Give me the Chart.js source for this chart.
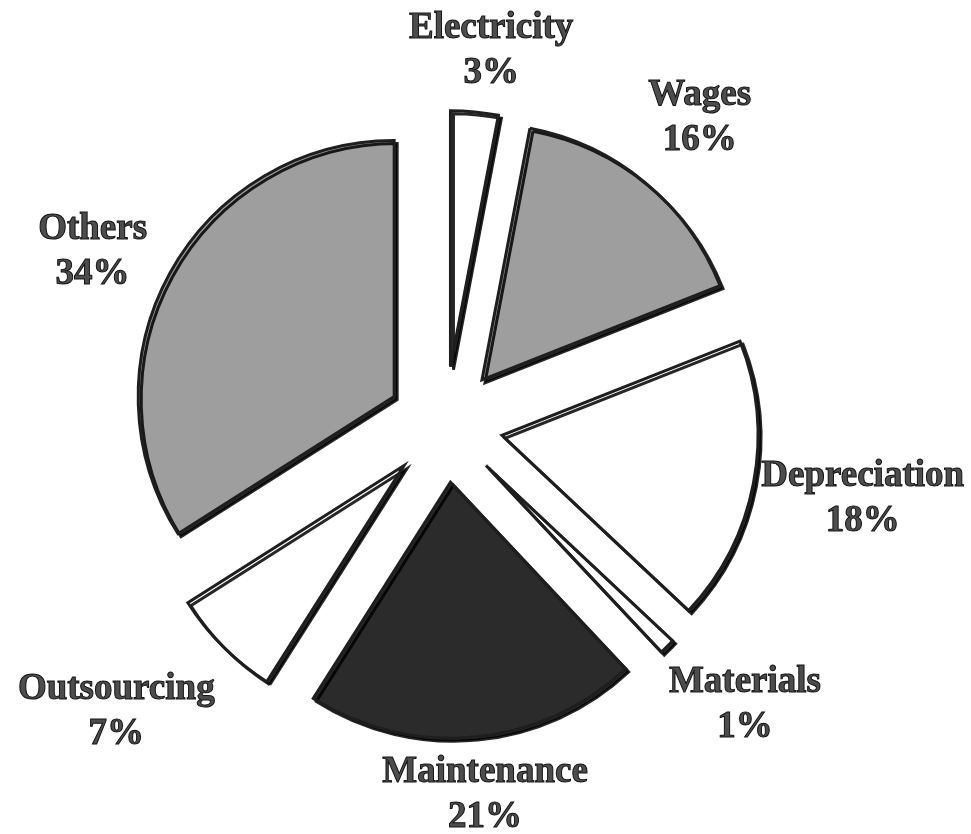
<!DOCTYPE html>
<html>
<head>
<meta charset="utf-8">
<script src="https://cdn.jsdelivr.net/npm/chart.js@4"></script>
<style>
  html, body { margin: 0; padding: 0; background: #fff; }
  #wrap { width: 971px; height: 834px; position: relative; }
</style>
</head>
<body>
<div id="wrap"><canvas id="pieChart"></canvas></div>
<script>
// data, clockwise from 12 o'clock
const categories = ['Electricity', 'Wages', 'Depreciation', 'Materials', 'Maintenance', 'Outsourcing', 'Others'];
const shares = [3, 16, 18, 1, 21, 7, 34];
const sliceColors = ['#ffffff', '#9e9e9e', '#ffffff', '#ffffff', '#2b2b2b', '#ffffff', '#9e9e9e'];

// how far every slice is pulled out of the centre
const EXPLODE = 58;
// small nudges for the labels so they sit like the original
const labelNudge = [[7, 1], [9, -17], [-10, 1], [10, 10], [-1, -9], [-23, 17], [-12, 8]];

const explodedSlices = {
  id: 'explodedSlices',
  beforeDatasetDraw(chart, args) {
    const ctx = chart.ctx;
    ctx.save();
    ctx.shadowColor = 'rgba(0,0,0,0.85)';
    ctx.shadowOffsetX = 3;
    ctx.shadowOffsetY = 3;
    ctx.shadowBlur = 0;
    args.meta.data.forEach(arc => {
      const mid = (arc.startAngle + arc.endAngle) / 2;
      ctx.save();
      ctx.translate(Math.cos(mid) * EXPLODE, Math.sin(mid) * EXPLODE);
      arc.draw(ctx);
      ctx.restore();
    });
    ctx.restore();
    return false;
  }
};

const sliceLabels = {
  id: 'sliceLabels',
  afterDatasetsDraw(chart) {
    const ctx = chart.ctx;
    const meta = chart.getDatasetMeta(0);
    const gap = 20;
    const lineH = 45;
    ctx.save();
    ctx.font = 'bold 37px "Liberation Serif", "Times New Roman", serif';
    ctx.textAlign = 'center';
    ctx.textBaseline = 'alphabetic';
    ctx.fillStyle = '#4d4d4d';
    ctx.strokeStyle = '#111111';
    ctx.lineWidth = 1;
    meta.data.forEach((arc, i) => {
      const mid = (arc.startAngle + arc.endAngle) / 2;
      const dx = Math.cos(mid), dy = Math.sin(mid);
      const px = arc.x + dx * (EXPLODE + arc.outerRadius);
      const py = arc.y + dy * (EXPLODE + arc.outerRadius);
      const lines = [categories[i], shares[i] + '%'];
      const w = Math.max(...lines.map(t => ctx.measureText(t).width));
      const h = lineH * 2;
      const cx = px + dx * (gap + w / 2) + labelNudge[i][0];
      const cy = py + dy * (gap + h / 2) + labelNudge[i][1];
      lines.forEach((t, k) => {
        const y = cy + (k - 0.5) * lineH + 12;
        ctx.fillText(t, cx, y);
        ctx.strokeText(t, cx, y);
      });
    });
    ctx.restore();
  }
};

new Chart(document.getElementById('pieChart'), {
  type: 'pie',
  data: {
    labels: categories,
    datasets: [{
      data: shares,
      backgroundColor: sliceColors,
      borderColor: '#1e1e1e',
      borderWidth: 3,
      hoverBorderWidth: 3,
      hoverOffset: 0,
      borderJoinStyle: 'miter'
    }]
  },
  options: {
    responsive: true,
    maintainAspectRatio: false,
    animation: false,
    events: [],
    layout: { padding: { top: 167, bottom: 152, left: 150, right: 231 } },
    plugins: {
      legend: { display: false },
      tooltip: { enabled: false }
    }
  },
  plugins: [explodedSlices, sliceLabels]
});
</script>
</body>
</html>
